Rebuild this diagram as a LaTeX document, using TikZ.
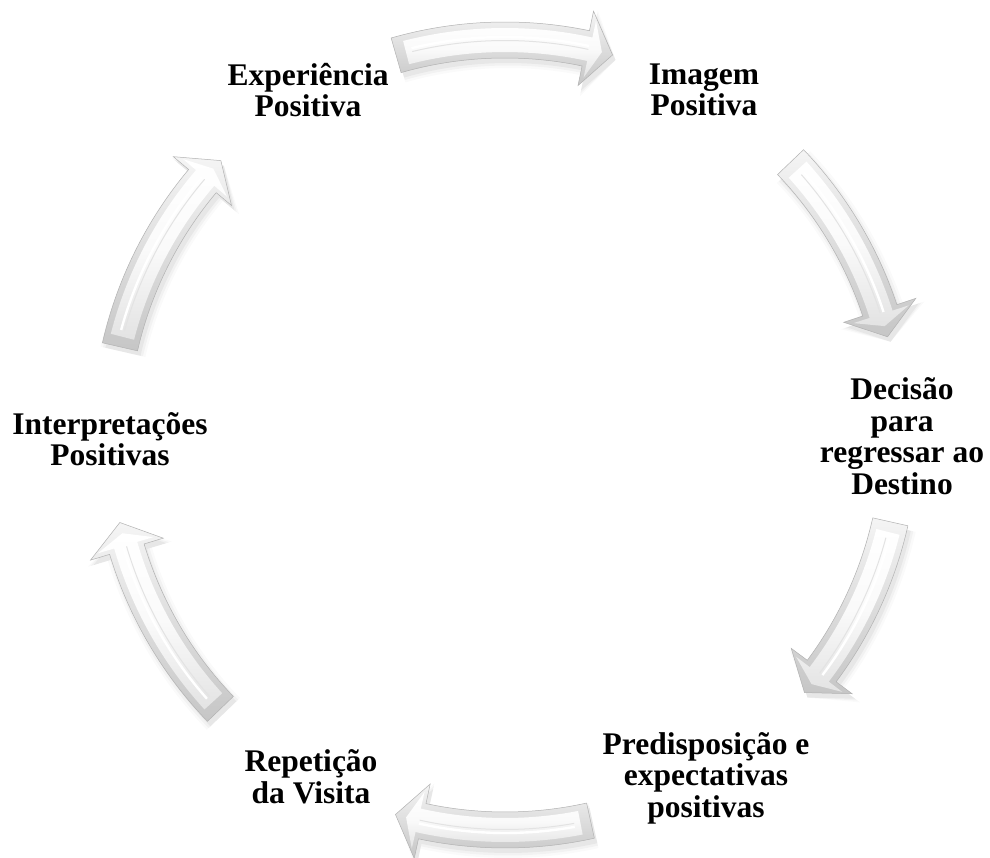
\documentclass[tikz,border=0pt]{standalone}
\usepackage{fontspec}
\setmainfont{Liberation Serif}

% radius of the ring of arrows
\def\R{395}

% one closed arrow outline on the ring:
% #1 tail angle, #2 head base angle, #3 tip angle,
% #4 shaft half width, #5 head half width, #6 path command with options
\newcommand\arrowbody[6]{%
  \pgfmathsetmacro\ro{\R+#4}\pgfmathsetmacro\ri{\R-#4}%
  \pgfmathsetmacro\hro{\R+#5}\pgfmathsetmacro\hri{\R-#5}%
  #6 (#1:\ro) arc[start angle=#1, end angle=#2, radius=\ro]
     -- (#2:\hro) -- (#3:\R) -- (#2:\hri) -- (#2:\ri)
     arc[start angle=#2, end angle=#1, radius=\ri] -- cycle;}

% a bevelled, shaded arrow running clockwise from #1 to #2 (angles)
\newcommand\cyclearrow[3]{%
  \pgfmathsetmacro\hb{#2+4}%
  \pgfmathsetmacro\hbi{#2+3.4}%
  \pgfmathsetmacro\tai{#1-1.5}%
  \pgfmathsetmacro\tipi{#2+1.6}%
  \pgfmathsetmacro\hla{#1-2.4}%
  \pgfmathsetmacro\hlb{#2+3.6}%
  \pgfmathsetmacro\hr{\R+3}%
  \pgfmathsetmacro\hrd{\R-0.5}%
  % soft shadow
  \begin{scope}[shift={(3,-5)}]
    \arrowbody{#1}{\hb}{#2}{23}{44}{\fill[black,opacity=0.02]}
    \arrowbody{#1}{\hb}{#2}{20.5}{41}{\fill[black,opacity=0.03]}
    \arrowbody{#1}{\hb}{#2}{18}{38}{\fill[black,opacity=0.045]}
  \end{scope}
  % bevel band
  \arrowbody{#1}{\hb}{#2}{18}{38}{\shade[top color=gray!8, bottom color=gray!45]}
  % face
  \arrowbody{\tai}{\hbi}{\tipi}{12}{29}{\shade[top color=white, bottom color=gray!22, middle color=gray!4]}
  % highlight stripe along the shaft
  \draw[gray!22, line width=1] (\hla:\hrd) arc[start angle=\hla, end angle=\hlb, radius=\hrd];
  \draw[white, line width=2.4] (\hla:\hr) arc[start angle=\hla, end angle=\hlb, radius=\hr];
  % outline
  \arrowbody{#1}{\hb}{#2}{18}{38}{\draw[gray!60, line width=0.5]}
  \coordinate (#3-tail) at (#1:\R);
  \coordinate (#3-tip) at (#2:\R);
}

\begin{document}
\begin{tikzpicture}[x=1pt,y=1pt,
  stage/.style={font=\fontsize{31.5}{31.5}\selectfont\bfseries, align=center,
    inner sep=0pt, text=black}]
\useasboundingbox (0,0) rectangle (990,857);
\fill[white] (0,0) rectangle (990,857);

% stages of the cycle
\node[stage] (exp) at (308,767) {Experiência\\Positiva};
\node[stage] (img) at (704,767) {Imagem\\Positiva};
\node[stage] (dec) at (902,421) {Decisão\\para\\regressar ao\\Destino};
\node[stage] (pre) at (706,79) {Predisposição e\\expectativas\\positivas};
\node[stage] (rep) at (311,80) {Repetição\\da Visita};
\node[stage] (int) at (110,418) {Interpretações\\Positivas};

% ring of curved arrows around the centre
\begin{scope}[shift={(505,422)}]
  \coordinate (ring) at (0,0);
  \cyclearrow{106}{74.2}{a1}
  \cyclearrow{43.7}{14.4}{a2}
  \cyclearrow{-12.7}{-40.7}{a3}
  \cyclearrow{-77.5}{-106.1}{a4}
  \cyclearrow{-136.1}{-167.2}{a5}
  \cyclearrow{167.1}{136}{a6}
\end{scope}
\end{tikzpicture}
\end{document}
